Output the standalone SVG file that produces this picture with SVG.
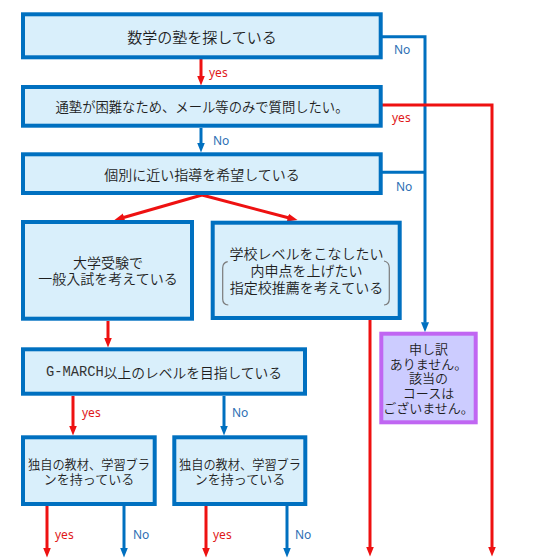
<svg xmlns="http://www.w3.org/2000/svg" width="540" height="560" viewBox="0 0 540 560">
<defs>
<style>
.box{fill:#d9effb;stroke:#0070c0;stroke-width:4}
.pbox{fill:#ccccff;stroke:#c066f2;stroke-width:4}
.t{font-family:"Noto Sans CJK JP","Noto Sans",sans-serif;font-weight:350;fill:#1e1e1e;text-anchor:middle;dominant-baseline:central}
.mono{font-family:"Liberation Mono",monospace;font-weight:400;fill:#333}
.r{fill:none;stroke:#ee1111;stroke-width:3}
.b{fill:none;stroke:#0070c0;stroke-width:3}
.ly{font-family:"Noto Sans","Liberation Sans",sans-serif;font-size:12px;fill:#e01818;dominant-baseline:central}
.ln{font-family:"Noto Sans","Liberation Sans",sans-serif;font-size:12px;fill:#2e6fb4;dominant-baseline:central}
.br{fill:none;stroke:#7a7a7a;stroke-width:1.2}
</style>
<marker id="ar" viewBox="0 0 10 10" refX="0.5" refY="5" markerWidth="10" markerHeight="10" markerUnits="userSpaceOnUse" orient="auto"><path d="M0,1 L10,5 L0,9 z" fill="#ee1111"/></marker>
<marker id="ab" viewBox="0 0 10 10" refX="0.5" refY="5" markerWidth="10" markerHeight="10" markerUnits="userSpaceOnUse" orient="auto"><path d="M0,1 L10,5 L0,9 z" fill="#0070c0"/></marker>
</defs>
<rect width="540" height="560" fill="#ffffff"/>

<g id="connectors">
<path class="r" d="M201,59 V76" marker-end="url(#ar)"/>
<path class="b" d="M382,36.7 H425 V322.7" marker-end="url(#ab)"/>
<path class="r" d="M382,105 H492 V547" marker-end="url(#ar)"/>
<path class="b" d="M201,128 V143" marker-end="url(#ab)"/>
<path class="b" d="M382,172.3 H425"/>
<path class="r" d="M202,195 L123.6,217.5" marker-end="url(#ar)"/>
<path class="r" d="M202,195 L288.3,217.7" marker-end="url(#ar)"/>
<path class="r" d="M108,321 V338" marker-end="url(#ar)"/>
<path class="r" d="M370,320 V547" marker-end="url(#ar)"/>
<path class="r" d="M73,396 V426" marker-end="url(#ar)"/>
<path class="b" d="M224,396 V426" marker-end="url(#ab)"/>
<path class="r" d="M47,506 V548" marker-end="url(#ar)"/>
<path class="b" d="M124,506 V548" marker-end="url(#ab)"/>
<path class="r" d="M206,506 V548" marker-end="url(#ar)"/>
<path class="b" d="M287,506 V548" marker-end="url(#ab)"/>
<text class="ly" x="209" y="72">yes</text>
<text class="ln" x="394" y="49">No</text>
<text class="ly" x="392" y="117">yes</text>
<text class="ln" x="213" y="140">No</text>
<text class="ln" x="396" y="186">No</text>
<text class="ly" x="82" y="412">yes</text>
<text class="ln" x="232" y="412">No</text>
<text class="ly" x="55" y="534">yes</text>
<text class="ln" x="133" y="534">No</text>
<text class="ly" x="213" y="534">yes</text>
<text class="ln" x="295" y="534">No</text>
</g>

<g id="n1"><rect class="box" x="23" y="14.3" width="357.7" height="43"/>
<text class="t" x="202" y="36" font-size="15">数学の塾を探している</text></g>

<g id="n2"><rect class="box" x="23" y="87" width="357.7" height="38.7"/>
<text class="t" x="202" y="106.4" font-size="14" textLength="293" lengthAdjust="spacingAndGlyphs">通塾が困難なため、メール等のみで質問したい。</text></g>

<g id="n3"><rect class="box" x="23" y="154.3" width="357.7" height="38.7"/>
<text class="t" x="202" y="173.7" font-size="14">個別に近い指導を希望している</text></g>

<g id="n4"><rect class="box" x="23" y="222" width="169" height="96.7"/>
<text class="t" x="108" y="262" font-size="14">大学受験で</text>
<text class="t" x="108" y="278" font-size="14">一般入試を考えている</text></g>

<g id="n5"><rect class="box" x="212.7" y="222.7" width="187" height="95.3"/>
<path class="br" d="M227.7,261.7 Q222.7,262.7 222.7,268 V299 Q222.7,304.5 228.3,305"/>
<path class="br" d="M384,261 Q389.3,262 389.3,268 V299 Q389.3,304.5 384,305"/>
<text class="t" x="306.5" y="252.7" font-size="14">学校レベルをこなしたい</text>
<text class="t" x="306.5" y="270" font-size="14">内申点を上げたい</text>
<text class="t" x="306.5" y="286.7" font-size="14">指定校推薦を考えている</text></g>

<g id="n6"><rect class="box" x="23" y="349.3" width="282" height="44.4"/>
<text class="t" x="164" y="372.3" font-size="14" textLength="236" lengthAdjust="spacingAndGlyphs"><tspan class="mono">G-MARCH</tspan>以上のレベルを目指している</text></g>

<g id="n7"><rect class="box" x="23" y="437.3" width="131.7" height="66.7"/>
<text class="t" x="89" y="463.5" font-size="13" textLength="122" lengthAdjust="spacingAndGlyphs">独自の教材、学習ブラ</text>
<text class="t" x="89" y="478" font-size="13">ンを持っている</text></g>

<g id="n8"><rect class="box" x="174.3" y="437.3" width="131" height="66.7"/>
<text class="t" x="240" y="463.5" font-size="13" textLength="122" lengthAdjust="spacingAndGlyphs">独自の教材、学習ブラ</text>
<text class="t" x="240" y="478" font-size="13">ンを持っている</text></g>

<g id="n9"><rect class="pbox" x="381.3" y="333.7" width="94.4" height="88.6"/>
<text class="t" x="428.5" y="348" font-size="13">申し訳</text>
<text class="t" x="428.5" y="363" font-size="13">ありません。</text>
<text class="t" x="428.5" y="377.5" font-size="13">該当の</text>
<text class="t" x="428.5" y="392" font-size="13">コースは</text>
<text class="t" x="428.5" y="407" font-size="13">ございません。</text></g>
</svg>
